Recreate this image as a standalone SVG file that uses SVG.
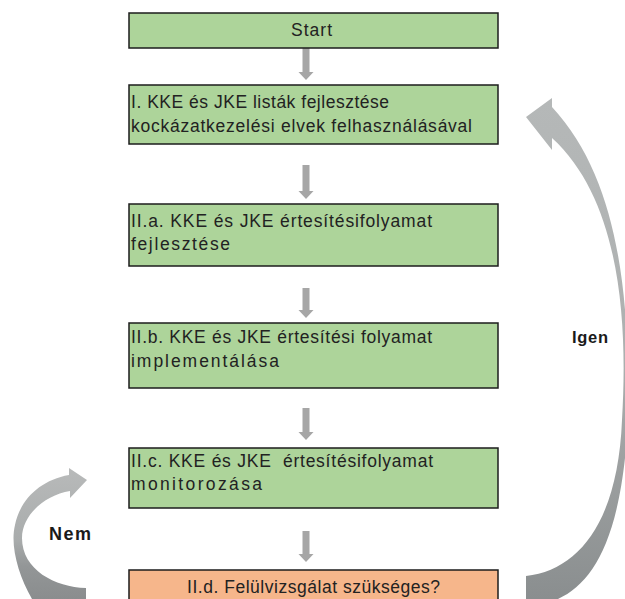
<svg xmlns="http://www.w3.org/2000/svg" width="625" height="599" viewBox="0 0 625 599">
  <style>
    .box { fill: #add49a; stroke: #1c1c1c; stroke-width: 1.5; }
    .box.q { fill: #f6b68b; }
    .t { font-family: "Liberation Sans", Arial, sans-serif; font-size: 17.5px; fill: #222; }
    .lbl { font-family: "Liberation Sans", Arial, sans-serif; font-weight: bold; fill: #1a1a1a; }
    .va { fill: #a6a6a6; }
  </style>
  <defs>
    <linearGradient id="gIgen" gradientUnits="userSpaceOnUse" x1="0" y1="100" x2="0" y2="599">
      <stop offset="0" stop-color="#b5b8b8"/>
      <stop offset="0.5" stop-color="#adb0b0"/>
      <stop offset="1" stop-color="#8a8e8f"/>
    </linearGradient>
    <linearGradient id="gNem" gradientUnits="userSpaceOnUse" x1="0" y1="468" x2="0" y2="599">
      <stop offset="0" stop-color="#b8baba"/>
      <stop offset="0.55" stop-color="#a9acac"/>
      <stop offset="0.75" stop-color="#939697"/>
      <stop offset="1" stop-color="#8a8d8e"/>
    </linearGradient>
  </defs>

  <g id="connectors">
    <polygon class="va" points="302.5,48 309.5,48 309.5,72 313.5,72 306,80 298.5,72 302.5,72"/>
    <polygon class="va" points="302.5,165 309.5,165 309.5,191 313.5,191 306,199 298.5,191 302.5,191"/>
    <polygon class="va" points="302.5,288 309.5,288 309.5,310 313.5,310 306,318 298.5,310 302.5,310"/>
    <polygon class="va" points="302.5,408 309.5,408 309.5,432 313.5,432 306,440 298.5,432 302.5,432"/>
    <polygon class="va" points="302.5,531 309.5,531 309.5,554 313.5,554 306,562 298.5,554 302.5,554"/>
    <path id="igen-arrow" fill="url(#gIgen)" d="M 526 599 L 526 576 C 580 570, 618 520, 622 420 C 628 320, 620 200, 552 138 L 552 150 L 526 117 L 552 98 L 552 107 C 620 180, 630 300, 628 420 C 622 535, 595 582, 558 599 Z"/>
    <path id="nem-arrow" fill="url(#gNem)" d="M 32 599 C 18 575, 10 545, 15 525 C 20 500, 40 480, 69 475 L 69 468 L 87 480 L 70 498 L 70 491 C 45 495, 22 515, 22 538 C 22 570, 55 587, 86 588 L 86 599 Z"/>
    <text class="lbl" x="572" y="343" font-size="16.5" textLength="36">Igen</text>
    <text class="lbl" x="49" y="540" font-size="18" textLength="42">Nem</text>
  </g>

  <g id="start">
    <rect class="box" x="129" y="13" width="369" height="35"/>
    <text class="t" x="311.5" y="36" text-anchor="middle" textLength="41">Start</text>
  </g>

  <g id="step-I">
    <rect class="box" x="129" y="85" width="369" height="59"/>
    <text class="t" x="131" y="108" textLength="258">I. KKE és JKE listák fejlesztése</text>
    <text class="t" x="131" y="132" textLength="341">kockázatkezelési elvek felhasználásával</text>
  </g>

  <g id="step-IIa">
    <rect class="box" x="129" y="204" width="369" height="62"/>
    <text class="t" x="131" y="227" textLength="301">II.a. KKE és JKE értesítésifolyamat</text>
    <text class="t" x="131" y="250" textLength="99">fejlesztése</text>
  </g>

  <g id="step-IIb">
    <rect class="box" x="129" y="323" width="369" height="65"/>
    <text class="t" x="131" y="343" textLength="301">II.b. KKE és JKE értesítési folyamat</text>
    <text class="t" x="131" y="367" textLength="148">implementálása</text>
  </g>

  <g id="step-IIc">
    <rect class="box" x="129" y="448" width="369" height="60"/>
    <text class="t" x="131" y="467" textLength="302" xml:space="preserve">II.c. KKE és JKE  értesítésifolyamat</text>
    <text class="t" x="131" y="490" textLength="131">monitorozása</text>
  </g>

  <g id="step-IId">
    <rect class="box q" x="129" y="570" width="369" height="40"/>
    <text class="t" x="313.5" y="593" text-anchor="middle" textLength="253">II.d. Felülvizsgálat szükséges?</text>
  </g>
</svg>
